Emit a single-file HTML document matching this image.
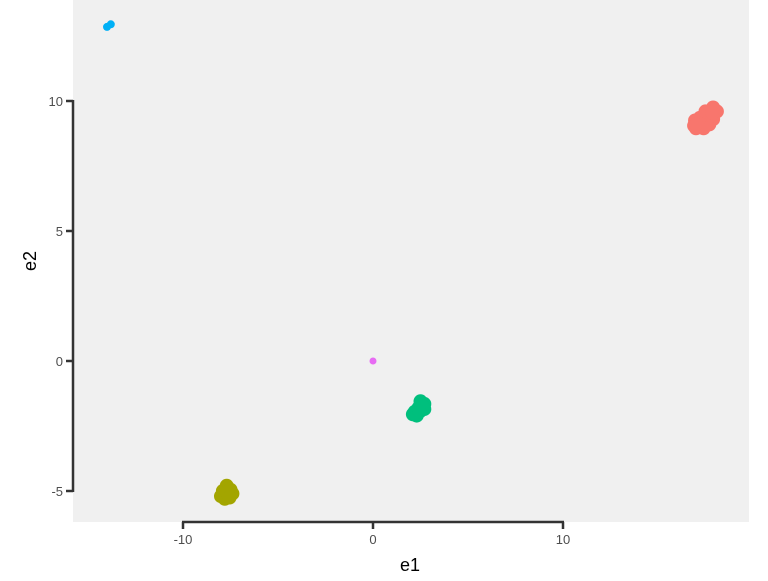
<!DOCTYPE html>
<html><head><meta charset="utf-8"><style>
body{margin:0;background:#fff;font-family:"Liberation Sans",sans-serif}
</style></head><body>
<svg id="c" width="768" height="576" xmlns="http://www.w3.org/2000/svg">
<rect x="73" y="0" width="676" height="522" fill="#f0f0f0"/>
<g id="pts"></g>
<line x1="73" y1="100" x2="73" y2="492" stroke="#333" stroke-width="2.5"/>
<line x1="182" y1="522" x2="564" y2="522" stroke="#333" stroke-width="2.5"/>
<g id="ticks"></g>
<text x="410" y="571" font-size="18" text-anchor="middle" fill="#000">e1</text>
<text x="36" y="261" font-size="18" text-anchor="middle" fill="#000" transform="rotate(-90 36 261)">e2</text>
</svg>
<script>
const xTicks=[-10,0,10];
const yTicks=[-5,0,5,10];
const redX=[17.9,18.1,17.7,17.4,17.1,16.9,17.0,17.4,17.7,17.9,17.3,17.6,16.95,17.2,17.5,17.8,17.2,17.5,17.0,17.85];
const redY=[9.75,9.6,9.5,9.4,9.2,9.05,8.95,8.95,9.1,9.3,9.15,9.3,9.25,9.0,9.05,9.45,9.35,9.6,9.1,9.55];
const greenX=[2.5,2.7,2.7,2.4,2.2,2.1,2.3,2.5,2.35,2.6,2.45];
const greenY=[-1.55,-1.65,-1.85,-1.8,-1.95,-2.05,-2.1,-1.7,-1.9,-1.75,-1.95];
const oliveX=[-7.7,-7.5,-7.9,-7.6,-8.0,-7.4,-7.8,-7.7,-7.55];
const oliveY=[-4.8,-4.95,-5.0,-5.15,-5.2,-5.1,-5.3,-5.05,-5.25];
const blueX=[-14.0,-13.8];
const blueY=[12.85,12.95];
const magX=[0];
const magY=[0];
const NS="http://www.w3.org/2000/svg";
const sx=v=>373+v*19, sy=v=>361-v*26;
const pts=document.getElementById('pts'), tk=document.getElementById('ticks');
function series(xs,ys,col,r,name){
  xs.forEach((x,i)=>{
    const c=document.createElementNS(NS,'circle');
    c.setAttribute('cx',sx(x));c.setAttribute('cy',sy(ys[i]));c.setAttribute('r',r);c.setAttribute('fill',col);
    
    
    pts.appendChild(c);
  });
}
series(redX,redY,'#F8766D',7,'point-cluster-1');
series(greenX,greenY,'#00BF7D',7,'point-cluster-2');
series(oliveX,oliveY,'#A3A500',7,'point-cluster-3');
series(blueX,blueY,'#00B0F6',4,'point-cluster-4');
series(magX,magY,'#E76BF3',3.5,'point-cluster-5');
xTicks.forEach(v=>{
  const l=document.createElementNS(NS,'line');
  l.setAttribute('x1',sx(v));l.setAttribute('x2',sx(v));l.setAttribute('y1',522);l.setAttribute('y2',529);
  l.setAttribute('stroke','#333');l.setAttribute('stroke-width','2.5');
  
  
  tk.appendChild(l);
  const t=document.createElementNS(NS,'text');
  t.setAttribute('x',sx(v));t.setAttribute('y',544);t.setAttribute('font-size','13');t.setAttribute('fill','#4d4d4d');t.setAttribute('text-anchor','middle');
  t.textContent=v;
  
  
  tk.appendChild(t);
});
yTicks.forEach(v=>{
  const l=document.createElementNS(NS,'line');
  l.setAttribute('x1',66);l.setAttribute('x2',73);l.setAttribute('y1',sy(v));l.setAttribute('y2',sy(v));
  l.setAttribute('stroke','#333');l.setAttribute('stroke-width','2.5');
  
  
  tk.appendChild(l);
  const t=document.createElementNS(NS,'text');
  t.setAttribute('x',63);t.setAttribute('y',sy(v)+5);t.setAttribute('font-size','13');t.setAttribute('fill','#4d4d4d');t.setAttribute('text-anchor','end');
  t.textContent=v;
  
  
  tk.appendChild(t);
});
</script>
</body></html>
